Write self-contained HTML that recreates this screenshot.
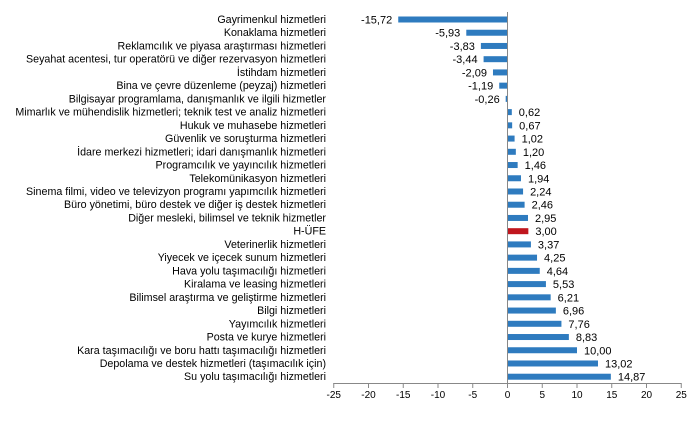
<!DOCTYPE html>
<html><head><meta charset="utf-8"><style>
body{margin:0;background:#fff;}
svg text{font-family:"Liberation Sans",Arial,sans-serif;font-size:10px;fill:#000;}
</style></head><body>
<svg id="c" width="699" height="416" xmlns="http://www.w3.org/2000/svg"></svg>
<script>
var d=[["Gayrimenkul hizmetleri",-15.72],["Konaklama hizmetleri",-5.93],["Reklamcılık ve piyasa araştırması hizmetleri",-3.83],["Seyahat acentesi, tur operatörü ve diğer rezervasyon hizmetleri",-3.44],["İstihdam hizmetleri",-2.09],["Bina ve çevre düzenleme (peyzaj) hizmetleri",-1.19],["Bilgisayar programlama, danışmanlık ve ilgili hizmetler",-0.26],["Mimarlık ve mühendislik hizmetleri; teknik test ve analiz hizmetleri",0.62],["Hukuk ve muhasebe hizmetleri",0.67],["Güvenlik ve soruşturma hizmetleri",1.02],["İdare merkezi hizmetleri; idari danışmanlık hizmetleri",1.20],["Programcılık ve yayıncılık hizmetleri",1.46],["Telekomünikasyon hizmetleri",1.94],["Sinema filmi, video ve televizyon programı yapımcılık hizmetleri",2.24],["Büro yönetimi, büro destek ve diğer iş destek hizmetleri",2.46],["Diğer mesleki, bilimsel ve teknik hizmetler",2.95],["H-ÜFE",3.00],["Veterinerlik hizmetleri",3.37],["Yiyecek ve içecek sunum hizmetleri",4.25],["Hava yolu taşımacılığı hizmetleri",4.64],["Kiralama ve leasing hizmetleri",5.53],["Bilimsel araştırma ve geliştirme hizmetleri",6.21],["Bilgi hizmetleri",6.96],["Yayımcılık hizmetleri",7.76],["Posta ve kurye hizmetleri",8.83],["Kara taşımacılığı ve boru hattı taşımacılığı hizmetleri",10.00],["Depolama ve destek hizmetleri (taşımacılık için)",13.02],["Su yolu taşımacılığı hizmetleri",14.87]];
var s='',z=507.5,k=6.95;
d.forEach(function(r,i){
 var y=19.5+13.23*i,v=r[1],x1=z+v*k;
 var col=r[0]=="H-ÜFE"?"#c0161e":"#2e7bbf";
 s+='<rect x="'+Math.min(z,x1)+'" y="'+(y-3)+'" width="'+Math.abs(v*k)+'" height="6" fill="'+col+'"/>';
 s+='<text x="326" y="'+(y+3.5)+'" text-anchor="end" style="font-size:10.7px">'+r[0]+'</text>';
 var lab=(v<0?'-':'')+Math.abs(v).toFixed(2).replace('.',',');
 if(v<0) s+='<text x="'+(x1-6)+'" y="'+(y+4)+'" text-anchor="end" style="font-size:11px">'+lab+'</text>';
 else s+='<text x="'+(x1+7)+'" y="'+(y+4)+'" style="font-size:11px">'+lab+'</text>';
});
s+='<line x1="'+z+'" y1="12" x2="'+z+'" y2="383" stroke="#888"/>';
s+='<line x1="333.3" y1="383.5" x2="681" y2="383.5" stroke="#888"/>';
for(var t=-25;t<=25;t+=5){var x=z+t*k;s+='<line x1="'+x+'" y1="383" x2="'+x+'" y2="388" stroke="#888"/><text x="'+x+'" y="398" text-anchor="middle">'+t+'</text>';}
document.getElementById('c').innerHTML=s;
</script>
</body></html>
